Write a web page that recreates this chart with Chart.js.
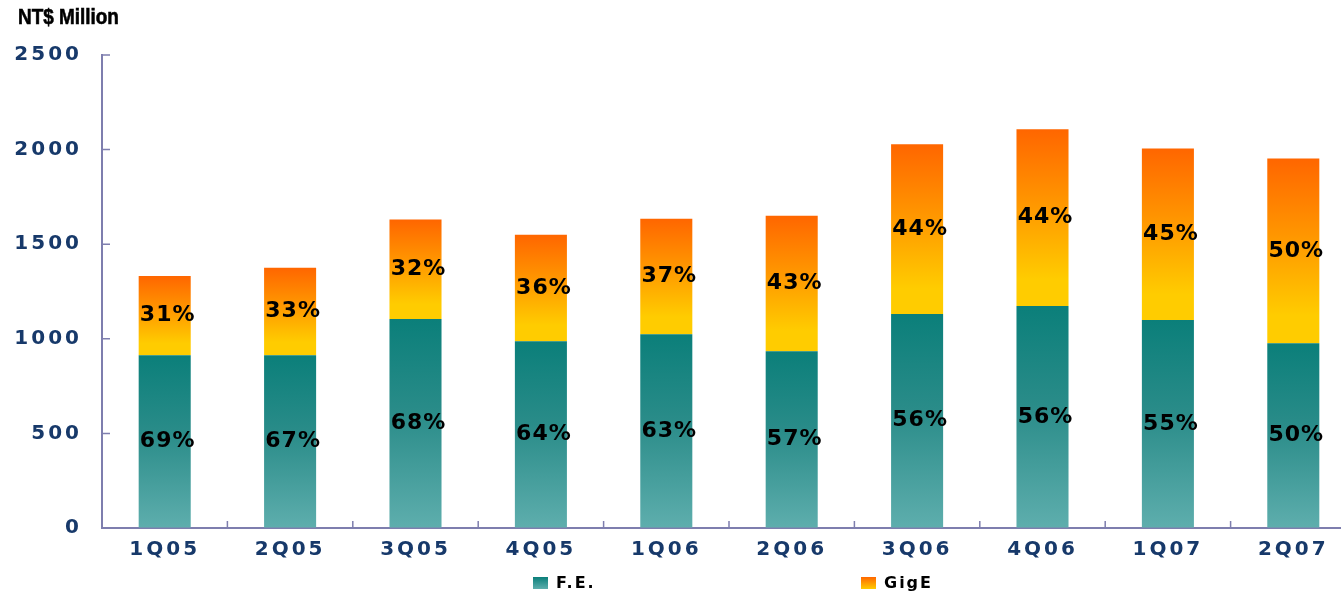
<!DOCTYPE html>
<html>
<head>
<meta charset="utf-8">
<script src="https://cdn.jsdelivr.net/npm/chart.js@4.4.0/dist/chart.umd.min.js"></script>
<style>
  html, body { margin: 0; padding: 0; background: #fff; overflow: hidden; }
  #wrap { position: relative; width: 1341px; height: 592px; overflow: hidden; }
  #box { position: absolute; left: 0; top: 0; width: 1356px; height: 592px; }
  #unit { position: absolute; left: 18px; top: 4px; font: bold 22px "Liberation Sans", sans-serif; color: #000;
          transform: scaleX(0.86); transform-origin: left top; white-space: nowrap;
          -webkit-text-stroke: 0.6px #000; }
  .leg { position: absolute; top: 573px; font: bold 16px "DejaVu Sans", sans-serif; letter-spacing: 2px; color: #000; white-space: nowrap; }
  .leg i { display: inline-block; width: 15px; height: 12px; margin-right: 8px; vertical-align: -1px; }
</style>
</head>
<body>
<div id="wrap">
  <div id="box"><canvas id="c"></canvas></div>
  <div id="unit">NT$ Million</div>
  <div class="leg" style="left:533px"><i style="background:linear-gradient(#0b7f7a,#5eaead)"></i>F.E.</div>
  <div class="leg" style="left:861px"><i style="background:linear-gradient(#ff6600,#ffa000 55%,#ffcc00)"></i>GigE</div>
</div>
<script>
// values (NT$ million)
const QUARTERS = ["1Q05", "2Q05", "3Q05", "4Q05", "1Q06", "2Q06", "3Q06", "4Q06", "1Q07", "2Q07"];
const FE       = [913, 913, 1104, 987, 1024, 934, 1131, 1173, 1099, 977];
const GIGE     = [419, 462, 526, 563, 611, 717, 897, 934, 907, 976];
const FE_PCT   = ["69%", "67%", "68%", "64%", "63%", "57%", "56%", "56%", "55%", "50%"];
const GIGE_PCT = ["31%", "33%", "32%", "36%", "37%", "43%", "44%", "44%", "45%", "50%"];
const Y_MAX = 2500, Y_STEP = 500;

const AXIS = "#7e7eae";
const NAVY = "#17396a";

// vertical gradient over one stacked segment
function segGradient(stops, baseArr, valArr) {
  return (c) => {
    const chart = c.chart;
    if (c.type !== "data" || !chart.chartArea) return stops[stops.length - 1][1];
    const y = chart.scales.y;
    const lo = baseArr ? baseArr[c.dataIndex] : 0;
    const top = y.getPixelForValue(lo + valArr[c.dataIndex]);
    const bot = y.getPixelForValue(lo);
    const g = chart.ctx.createLinearGradient(0, top, 0, bot);
    stops.forEach(([p, col]) => g.addColorStop(p, col));
    return g;
  };
}

const segLabels = {
  id: "segLabels",
  afterDatasetsDraw(chart) {
    const ctx = chart.ctx;
    ctx.save();
    ctx.font = 'bold 22px "DejaVu Sans"';
    ctx.letterSpacing = "1px";
    ctx.fillStyle = "#000";
    ctx.textAlign = "center";
    ctx.textBaseline = "middle";
    chart.data.datasets.forEach((ds, di) => {
      chart.getDatasetMeta(di).data.forEach((bar, i) => {
        ctx.fillText(ds.pct[i], bar.x + 3, (bar.y + bar.base) / 2);
      });
    });
    ctx.restore();
  }
};

// small tick marks drawn on the inside of both axes
const innerTicks = {
  id: "innerTicks",
  beforeDraw(chart) { chart.ctx.letterSpacing = "3px"; },
  afterDraw(chart) {
    const { x, y } = chart.scales;
    const ctx = chart.ctx;
    ctx.save();
    ctx.strokeStyle = AXIS;
    ctx.lineWidth = 1.5;
    ctx.beginPath();
    y.ticks.forEach((t) => {
      const py = y.getPixelForValue(t.value);
      ctx.moveTo(x.left, py); ctx.lineTo(x.left + 8, py);
    });
    for (let i = 0; i < QUARTERS.length - 1; i++) {
      const px = (x.getPixelForValue(i) + x.getPixelForValue(i + 1)) / 2;
      ctx.moveTo(px, y.bottom); ctx.lineTo(px, y.bottom - 7);
    }
    ctx.stroke();
    ctx.restore();
  }
};

new Chart(document.getElementById("c"), {
  type: "bar",
  data: {
    labels: QUARTERS,
    datasets: [
      {
        label: "F.E.", data: FE, pct: FE_PCT,
        backgroundColor: segGradient([[0, "#0b7f7a"], [0.45, "#2a8c89"], [1, "#5eaead"]], null, FE),
        barPercentage: 0.415, categoryPercentage: 1,
      },
      {
        label: "GigE", data: GIGE, pct: GIGE_PCT,
        backgroundColor: segGradient([[0, "#ff6600"], [0.5, "#ffa000"], [0.85, "#ffcc00"], [1, "#ffcc00"]], FE, GIGE),
        barPercentage: 0.415, categoryPercentage: 1,
      },
    ],
  },
  options: {
    responsive: true,
    maintainAspectRatio: false,
    animation: false,
    layout: { padding: { top: 55, bottom: 20, left: 0, right: 0 } },
    plugins: { legend: { display: false }, tooltip: { enabled: false } },
    scales: {
      x: {
        stacked: true,
        grid: { drawOnChartArea: false, drawTicks: false },
        border: { color: AXIS, width: 2 },
        ticks: { color: NAVY, font: { family: "DejaVu Sans", weight: "bold", size: 20 }, padding: 10, maxRotation: 0 },
      },
      y: {
        stacked: true,
        min: 0, max: Y_MAX,
        afterFit: (s) => { s.width = 102; },
        grid: { drawOnChartArea: false, drawTicks: false },
        border: { color: AXIS, width: 2 },
        ticks: { stepSize: Y_STEP, color: NAVY, font: { family: "DejaVu Sans", weight: "bold", size: 20 }, padding: 20,
                 callback: (v) => String(v) },
      },
    },
  },
  plugins: [segLabels, innerTicks],
});
</script>
</body>
</html>
